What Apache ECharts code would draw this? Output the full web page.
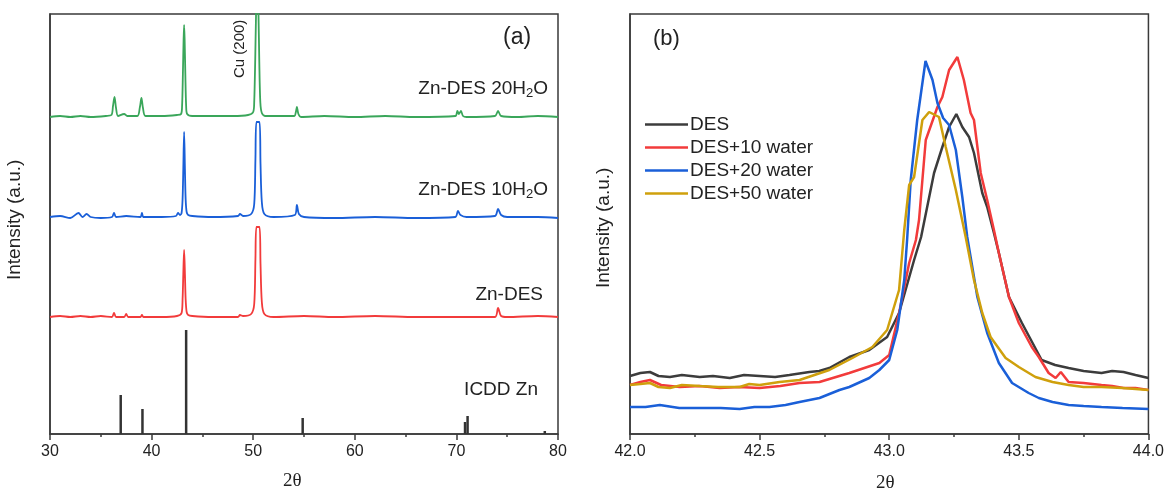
<!DOCTYPE html>
<html>
<head>
    <meta charset="UTF-8">
    <title>XRD</title>
    <script src="https://cdn.jsdelivr.net/npm/echarts@6/dist/echarts.min.js"></script>
    <style>
        html, body { margin: 0; padding: 0; background: #fff; }
        #main { width: 1167px; height: 498px; }
    </style>
</head>
<body>
<div id="main"></div>
<script>
    // panel (a): [2theta, intensity] with vertical offsets as drawn
    var zn20 = [[30,317],[31,318],[32,317],[33,318],[34,317],[35.5,318],[36.05,319],[36.2,328],[36.35,337],[36.5,326],[36.7,318],[37.3,320],[37.6,318],[38.6,318],
        [38.85,327],[39.0,336],[39.15,326],[39.4,318],[41,318],[42.5,319],[42.9,320],[43.0,328],[43.08,360],[43.15,395],[43.2,409],[43.25,395],[43.32,360],[43.4,328],
        [43.5,320],[44,318],[46,318],[48,318],[49.5,319],[50.0,322],[50.1,332],[50.2,375],[50.28,420],[50.4,460],[50.52,420],[50.6,372],[50.7,332],[50.85,321],[51.2,318],
        [53,318],[54.05,318],[54.2,322],[54.3,327],[54.45,320],[54.7,317],[57,318],[60,317],[63,318],[66,317],[69.9,318],[70.1,323],[70.25,320],[70.45,323],[70.65,318],
        [71,317],[73.8,318],[74.1,323],[74.4,318],[76,317],[78,318],[80,317]];
    var zn10 = [[30,217],[31,218],[32,216],[32.8,221],[33.2,217],[33.6,220],[34,217],[35,216],[36.1,217],[36.3,221],[36.5,217],[37.5,218],[38.9,217],[39.05,221],
        [39.2,217],[41,217],[42.4,218],[42.6,221],[42.8,219],[42.95,221],[43.05,235],[43.12,265],[43.2,302],[43.28,265],[43.35,235],[43.45,222],[43.6,219],[44,218],
        [46,217],[48.5,218],[48.7,220],[49,218],[49.8,220],[50.1,230],[50.22,275],[50.32,312],[50.62,312],[50.72,270],[50.85,232],[51.1,220],[52,217],[54.1,219],
        [54.3,229],[54.5,220],[55,217],[58,216],[62,217],[66,216],[69.9,217],[70.15,223],[70.4,219],[71,217],[73.8,218],[74.1,225],[74.4,219],[75,217],[78,217],[80,216]];
    var zn0 = [[30,117],[31,118],[32,117],[33,118],[34,117],[35,118],[36.1,117],[36.3,121],[36.5,117],[37.3,117],[37.5,120],[37.7,117],[38.9,117],[39.05,119],[39.2,117],
        [41,117],[42.5,118],[42.95,121],[43.05,135],[43.12,160],[43.2,184],[43.28,160],[43.35,135],[43.45,122],[43.6,119],[44,118],[46,117],[48.5,117],[48.7,119],
        [49,118],[49.8,120],[50.1,130],[50.22,175],[50.32,207],[50.62,207],[50.72,170],[50.85,132],[51.1,120],[52,117],[55,118],[58,117],[62,118],[66,117],[70,117],
        [73.8,117],[74.1,126],[74.4,118],[75,117],[78,118],[80,117]];
    var icddZn = [[36.96,39],[39.1,25],[43.4,104],[54.87,16],[70.85,12],[71.1,18],[78.7,3]];

    // panel (b)
    var des = [[42.0,58],[42.04,61],[42.077,62],[42.11,58],[42.154,57],[42.2,59],[42.269,57],[42.32,58],[42.385,56],[42.44,59],[42.5,58],[42.56,57],[42.615,59],
        [42.692,62],[42.73,63],[42.769,66],[42.846,77],[42.923,84],[42.992,97],[43.038,121],[43.096,174],[43.123,197],[43.173,261],[43.205,287],[43.231,307],
        [43.259,320],[43.282,307],[43.308,297],[43.327,281],[43.359,241],[43.378,227],[43.404,201],[43.423,181],[43.462,137],[43.512,111],[43.588,74],[43.64,69],
        [43.692,66],[43.75,63],[43.819,61],[43.86,63],[43.904,62],[43.95,59],[44.0,56]];
    var des10 = [[42.0,49],[42.04,52],[42.077,54],[42.12,49],[42.192,47],[42.27,48],[42.346,46],[42.42,47],[42.5,46],[42.58,48],[42.654,51],[42.731,52],[42.846,61],
        [42.962,71],[43.0,79],[43.038,121],[43.077,171],[43.103,194],[43.115,214],[43.141,294],[43.186,327],[43.205,337],[43.231,364],[43.263,377],[43.288,354],
        [43.314,321],[43.327,314],[43.353,261],[43.378,234],[43.404,204],[43.423,181],[43.462,137],[43.5,111],[43.55,87],[43.577,77],[43.615,61],[43.642,56],
        [43.662,62],[43.692,52],[43.75,51],[43.819,49],[43.86,48],[43.904,46],[43.95,46],[44.0,44]];
    var des20 = [[42.0,27],[42.06,27],[42.115,29],[42.19,26],[42.269,26],[42.35,26],[42.423,25],[42.48,27],[42.538,27],[42.6,29],[42.654,32],[42.731,36],
        [42.808,44],[42.846,47],[42.923,56],[42.962,64],[43.0,74],[43.031,104],[43.058,154],[43.069,194],[43.083,254],[43.108,314],[43.14,373],[43.167,354],
        [43.186,331],[43.208,316],[43.231,309],[43.257,284],[43.282,237],[43.301,197],[43.34,137],[43.378,101],[43.423,71],[43.474,51],[43.538,41],[43.577,36],
        [43.63,32],[43.692,29],[43.75,28],[43.819,27],[43.9,26],[44.0,25]];
    var des50 = [[42.0,49],[42.04,50],[42.077,51],[42.11,47],[42.154,46],[42.2,49],[42.269,48],[42.34,47],[42.423,47],[42.46,50],[42.5,49],[42.577,52],
        [42.654,54],[42.769,64],[42.858,76],[42.935,87],[42.992,104],[43.038,144],[43.058,204],[43.077,249],[43.096,257],[43.128,314],[43.154,322],[43.192,317],
        [43.218,287],[43.257,244],[43.295,197],[43.327,154],[43.359,121],[43.391,97],[43.449,76],[43.5,67],[43.564,57],[43.63,52],[43.692,49],[43.75,47],
        [43.819,47],[43.9,46],[43.95,45],[44.0,44]];

    var legendNames = ['DES', 'DES+10 water', 'DES+20 water', 'DES+50 water'];

    var myChart = echarts.init(document.getElementById('main'));
    var font = 'Arial, "Liberation Sans", sans-serif';
    var serif = '"Liberation Serif", "DejaVu Serif", serif';
    var frame = '#3a3a3a';

    function xAxisOf(grid, min, max, interval, fmt) {
        return {
            gridIndex: grid, type: 'value', min: min, max: max, interval: interval,
            axisLine: { lineStyle: { color: frame, width: 1.5 } },
            axisTick: { length: 6, lineStyle: { color: frame, width: 1.5 } },
            minorTick: { show: true, splitNumber: 2, length: 3, lineStyle: { color: frame, width: 1.5 } },
            splitLine: { show: false },
            axisLabel: { color: '#222', fontSize: 16, fontFamily: font, margin: 10, formatter: fmt }
        };
    }
    function yAxisOf(grid) {
        return {
            gridIndex: grid, type: 'value', min: 0, max: 420,
            axisLine: { show: true, lineStyle: { color: frame, width: 1.5 } },
            axisTick: { show: false }, axisLabel: { show: false }, splitLine: { show: false }
        };
    }
    function lineOf(name, data, color, x, w, smooth) {
        return {
            name: name, type: 'line', xAxisIndex: x, yAxisIndex: x, data: data,
            showSymbol: false, symbol: 'none', smooth: smooth, clip: true,
            lineStyle: { color: color, width: w }, itemStyle: { color: color }
        };
    }

    var labelText = { fontSize: 19, fontFamily: font, fill: '#222' };
    var sub = { s: { fontSize: 13, fontFamily: font, padding: [10, 0, 0, 0] } };

    var option = {
        animation: false,
        backgroundColor: '#fff',
        grid: [
            { left: 50, top: 14, width: 508, height: 420, show: true, borderColor: frame, borderWidth: 1.5 },
            { left: 630, top: 14, width: 520, height: 420, show: true, borderColor: frame, borderWidth: 1.5 }
        ],
        xAxis: [
            xAxisOf(0, 30, 80, 10, function (v) { return v; }),
            xAxisOf(1, 42, 44, 0.5, function (v) { return v.toFixed(1); })
        ],
        yAxis: [yAxisOf(0), yAxisOf(1)],
        legend: {
            data: legendNames,
            orient: 'vertical', left: 640, top: 110,
            icon: 'rect', itemWidth: 43, itemHeight: 2.5, itemGap: 4,
            textStyle: { fontSize: 19, fontFamily: font, color: '#222', padding: [0, 0, 0, -3] }
        },
        graphic: [
            { type: 'text', left: 503, top: 26, style: { text: '(a)', fontSize: 23, fontFamily: font, fill: '#222' } },
            { type: 'text', left: 653, top: 28, style: { text: '(b)', fontSize: 22, fontFamily: font, fill: '#222' } },
            { type: 'text', right: 619, top: 79, style: Object.assign({ text: 'Zn-DES 20H{s|2}O', rich: sub }, labelText) },
            { type: 'text', right: 619, top: 180, style: Object.assign({ text: 'Zn-DES 10H{s|2}O', rich: sub }, labelText) },
            { type: 'text', right: 624, top: 285, style: Object.assign({ text: 'Zn-DES' }, labelText) },
            { type: 'text', right: 629, top: 380, style: Object.assign({ text: 'ICDD Zn' }, labelText) },
            { type: 'text', x: 232, y: 78, rotation: Math.PI / 2, style: { text: 'Cu (200)', fontSize: 15, fontFamily: font, fill: '#222' } },
            { type: 'text', x: 5, y: 280, rotation: Math.PI / 2, style: { text: 'Intensity (a.u.)', fontSize: 19, fontFamily: font, fill: '#222' } },
            { type: 'text', x: 594, y: 288, rotation: Math.PI / 2, style: { text: 'Intensity (a.u.)', fontSize: 19, fontFamily: font, fill: '#222' } },
            { type: 'text', left: 283, top: 472, style: { text: '2θ', fontSize: 19, fontFamily: serif, fill: '#222' } },
            { type: 'text', left: 876, top: 474, style: { text: '2θ', fontSize: 19, fontFamily: serif, fill: '#222' } }
        ],
        series: [
            lineOf('Zn-DES 20H2O', zn20, '#3aa65a', 0, 1.8, 0.3),
            lineOf('Zn-DES 10H2O', zn10, '#1a5fd8', 0, 1.8, 0.3),
            lineOf('Zn-DES', zn0, '#f23b3b', 0, 1.8, 0.3),
            {
                name: 'ICDD Zn', type: 'bar', xAxisIndex: 0, yAxisIndex: 0, data: icddZn,
                barWidth: 2.5, itemStyle: { color: '#333' }
            },
            lineOf('DES', des, '#3c3c3c', 1, 2.5, false),
            lineOf('DES+10 water', des10, '#f23b3b', 1, 2.5, false),
            lineOf('DES+20 water', des20, '#1a5fd8', 1, 2.5, false),
            lineOf('DES+50 water', des50, '#cfa00c', 1, 2.5, false)
        ]
    };

    myChart.setOption(option);
</script>
</body>
</html>
